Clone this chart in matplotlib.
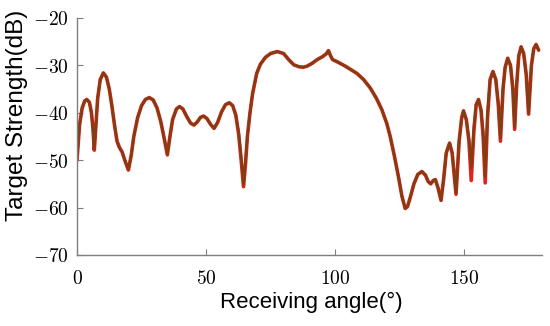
import matplotlib
matplotlib.use("Agg")
import matplotlib.pyplot as plt

# receiving angle (deg) and target strength (dB)
angle = [0, 1, 2, 3, 3.8, 4.8, 5.6, 6.2, 6.7, 7.3, 8, 9, 10.2, 11.4, 12.5, 13.5,
         14.5, 15.5, 16.4, 17.5, 18.5, 19.9, 21, 22, 23.5, 25, 26.5, 28, 29.5,
         31, 32.5, 33.8, 35, 36, 37, 38.5, 39.7, 41, 42.5, 44, 45.3, 46.5, 47.8,
         49, 50.3, 51.8, 53.1, 54.5, 56, 57.5, 59, 60.3, 61.5, 62.6, 63.5, 64.5,
         65.3, 66, 67, 68, 69.6, 71, 73, 75, 77.6, 80, 82, 84, 86, 87.5, 89, 91,
         93, 95, 96.5, 97.4, 98.2, 99, 100.6, 104, 108.4, 111, 113.6, 116, 118.1,
         120, 121.3, 122.8, 124.5, 125.8, 127.1, 128, 129, 130.5, 132, 133.6, 135,
         136, 137, 138, 138.8, 139.8, 141, 142, 143, 144.3, 145.3, 146.8, 148,
         149, 149.7, 150.8, 151.8, 152.7, 153.7, 154.6, 155.5, 156.5, 157.3, 158.1,
         159, 160, 161.1, 162.2, 163.2, 164, 165, 165.8, 166.8, 167.9, 168.8,
         169.5, 170.3, 171.1, 172, 173, 174, 174.9, 176, 176.9, 177.8, 178.8]

ts_fit = [-50, -42.5, -39, -37.5, -37.2, -37.8, -40, -43.5, -47.7, -43, -37, -33,
          -31.6, -32.5, -35, -38.5, -42.5, -46, -47.3, -48.3, -50, -51.9, -49, -45,
          -41, -38.5, -37.2, -36.8, -37.3, -39, -42, -45.5, -48.7, -45, -41.5,
          -39.2, -38.7, -39.2, -40.8, -42.2, -42.6, -42, -41, -40.7, -41.2, -42.5,
          -43.3, -42, -39.8, -38.3, -37.9, -38.5, -40.5, -44, -49, -55.2, -50, -45,
          -40, -36, -31.7, -29.8, -28.3, -27.5, -27.1, -27.5, -28.8, -29.9, -30.3,
          -30.4, -30.2, -29.6, -28.8, -28.2, -27.6, -26.9, -28, -28.8, -29.2, -30.2,
          -31.7, -33, -34.8, -37, -39.4, -42.3, -45, -48.8, -53.5, -57.5, -60.2,
          -59.8, -58, -55, -53, -52.4, -53.2, -54.5, -55, -54.3, -54.1, -55.8,
          -58.5, -54, -48.5, -46.4, -48.5, -57, -46, -41, -39.6, -41.5, -45.5,
          -51.7, -43, -38.3, -37.2, -39.5, -44, -53.5, -40, -33, -31.3, -33, -38,
          -45.4, -35, -30.5, -28.5, -30, -35, -43.1, -34, -28, -26.1, -27.5, -32,
          -40.1, -30, -26.5, -25.6, -26.8]

ts_ref = [-50, -42.5, -39, -37.5, -37.2, -37.8, -40, -43.5, -47.9, -43, -37, -33,
          -31.6, -32.5, -35, -38.5, -42.5, -46, -47.3, -48.3, -50, -52.1, -49, -45,
          -41, -38.5, -37.2, -36.8, -37.3, -39, -42, -45.5, -48.9, -45, -41.5,
          -39.2, -38.7, -39.2, -40.8, -42.2, -42.6, -42, -41, -40.7, -41.2, -42.5,
          -43.3, -42, -39.8, -38.3, -37.9, -38.5, -40.5, -44.5, -49.5, -55.6, -50.5,
          -45, -40, -36, -31.7, -29.8, -28.3, -27.5, -27.1, -27.5, -28.8, -29.9,
          -30.3, -30.4, -30.2, -29.6, -28.8, -28.2, -27.6, -26.9, -28, -28.8, -29.2,
          -30.2, -31.7, -33, -34.8, -37, -39.4, -42.3, -45, -48.8, -53.5, -57.5,
          -60.2, -59.8, -58, -55, -53, -52.4, -53.2, -54.5, -55, -54.3, -54.1,
          -55.8, -58.5, -54, -48.5, -46.4, -48.5, -57.2, -46, -41, -39.6, -41.5,
          -46, -54.3, -44, -38.3, -37.2, -39.5, -45, -54.8, -41, -33, -31.3, -33,
          -38.5, -46, -35, -30.5, -28.5, -30, -35, -43.5, -34, -28, -26.1, -27.5,
          -32, -40.3, -30, -26.5, -25.6, -26.8]

plt.rcParams["mathtext.fontset"] = "cm"

fig = plt.figure(figsize=(5.5, 3.26), dpi=100)
ax = fig.add_axes([0.14, 0.218, 0.845, 0.727])

ax.plot(angle, ts_ref, color="#e8201c", lw=2.6, solid_capstyle="round")
ax.plot(angle, ts_fit, color="#7e3f12", lw=1.8, solid_capstyle="round")

ax.set_xlim(0, 180)
ax.set_ylim(-70, -20)
ax.set_xticks([0, 50, 100, 150])
ax.set_yticks([-70, -60, -50, -40, -30, -20])
ax.set_xticklabels([r"$0$", r"$50$", r"$100$", r"$150$"], fontsize=14)
ax.set_yticklabels([r"$-70$", r"$-60$", r"$-50$", r"$-40$", r"$-30$", r"$-20$"], fontsize=14)

for s in ["top", "right"]:
    ax.spines[s].set_visible(False)
for s in ["left", "bottom"]:
    ax.spines[s].set_color("#7f7f7f")
    ax.spines[s].set_linewidth(1.0)
ax.tick_params(direction="in", length=4, color="#7f7f7f")
ax.tick_params(axis="x", pad=10)
ax.tick_params(axis="y", pad=6)

ax.set_xlabel("Receiving angle(°)", fontsize=16, family="Liberation Sans")
ax.set_ylabel("Target Strength(dB)", fontsize=17.5, family="Liberation Sans")
ax.xaxis.set_label_coords(0.505, -0.155)
ax.yaxis.set_label_coords(-0.105, 0.59)

fig.savefig("out.png", dpi=100)
